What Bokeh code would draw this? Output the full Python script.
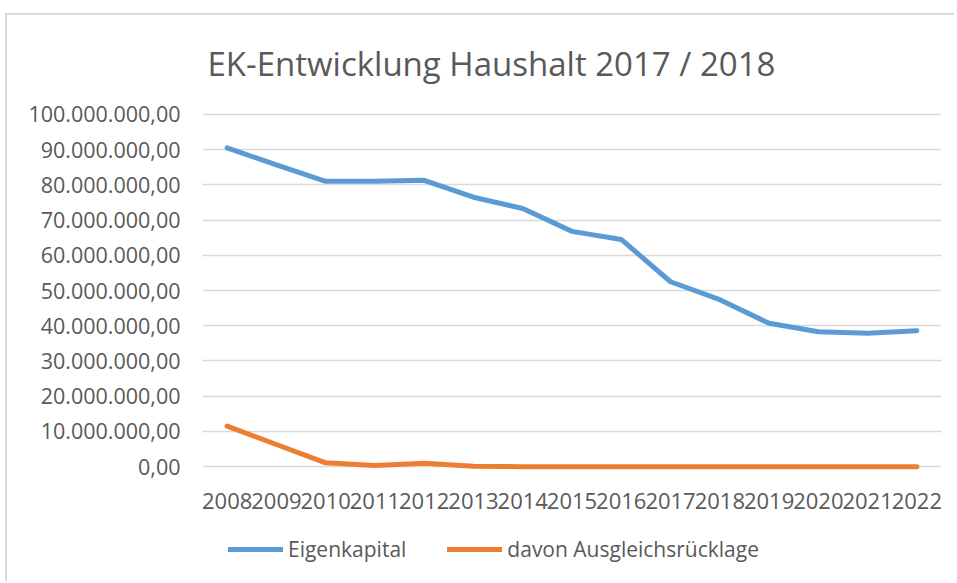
from bokeh.plotting import figure
from bokeh.models import Range1d, FixedTicker, Legend, LegendItem
from bokeh.embed import file_html
from bokeh.resources import INLINE

years = ["2008", "2009", "2010", "2011", "2012", "2013", "2014", "2015",
         "2016", "2017", "2018", "2019", "2020", "2021", "2022"]
eigenkapital = [90.5e6, 85.7e6, 81.0e6, 81.0e6, 81.3e6, 76.5e6, 73.3e6, 66.8e6,
                64.5e6, 52.5e6, 47.4e6, 40.7e6, 38.3e6, 37.9e6, 38.6e6]
ausgleich = [11.5e6, 6.3e6, 1.1e6, 0.3e6, 1.0e6, 0.1e6, 0.0, 0.0,
             0.0, 0.0, 0.0, 0.0, 0.0, 0.0, 0.0]
y_ticks = [0, 10e6, 20e6, 30e6, 40e6, 50e6, 60e6, 70e6, 80e6, 90e6, 100e6]
y_tick_labels = ["0,00", "10.000.000,00", "20.000.000,00", "30.000.000,00",
                 "40.000.000,00", "50.000.000,00", "60.000.000,00", "70.000.000,00",
                 "80.000.000,00", "90.000.000,00", "100.000.000,00"]
title_text = "EK-Entwicklung Haushalt 2017 / 2018"
series_names = ["Eigenkapital", "davon Ausgleichsrücklage"]

FONT = "Open Sans"
GREY = "#595959"

p = figure(x_range=years, y_range=Range1d(-30.9e6, 101.4e6),
           width=949, height=568, output_backend="svg", toolbar_location=None,
           min_border_left=195, min_border_right=15, min_border_top=92,
           min_border_bottom=8)
p.styles = {"border-left": "2px solid #d9d9d9", "border-top": "2px solid #d9d9d9",
            "margin-left": "5px", "margin-top": "13px"}
p.outline_line_color = None
p.background_fill_color = "white"
p.border_fill_color = "white"

p.title.text = title_text
p.title.text_font = FONT
p.title.text_font_size = "33px"
p.title.text_font_style = "normal"
p.title.text_color = GREY
p.title.align = "left"
p.title.offset = 5
p.title.standoff = 47

p.xgrid.grid_line_color = None
p.ygrid.grid_line_color = "#d9d9d9"
p.ygrid.grid_line_width = 1.5

p.yaxis.ticker = FixedTicker(ticks=y_ticks)
p.yaxis.major_label_overrides = {t: l for t, l in zip(y_ticks, y_tick_labels)}
for ax in (p.xaxis[0], p.yaxis[0]):
    ax.axis_line_color = None
    ax.major_tick_line_color = None
    ax.minor_tick_line_color = None
    ax.major_label_text_font = FONT
    ax.major_label_text_color = GREY
p.yaxis.major_label_standoff = 16
p.xaxis.major_label_standoff = 15
p.xaxis.fixed_location = -1.5e6
p.yaxis.major_label_text_font_size = "21.5px"
p.xaxis.major_label_text_font_size = "22px"

r1 = p.line(years, eigenkapital, line_color="#5b9bd5", line_width=5,
            line_cap="round", line_join="round")
r2 = p.line(years, ausgleich, line_color="#ed7d31", line_width=5,
            line_cap="round", line_join="round")

legend = Legend(items=[LegendItem(label=series_names[0], renderers=[r1]),
                       LegendItem(label=series_names[1], renderers=[r2])],
                location=(26, 12), orientation="horizontal",
                glyph_width=55, glyph_height=20, label_standoff=5, spacing=41,
                padding=0, margin=0, border_line_color=None,
                background_fill_alpha=0,
                label_text_font=FONT, label_text_font_size="21px",
                label_text_color=GREY)
p.add_layout(legend, "center")

open("out.html", "w").write(file_html(p, INLINE))
